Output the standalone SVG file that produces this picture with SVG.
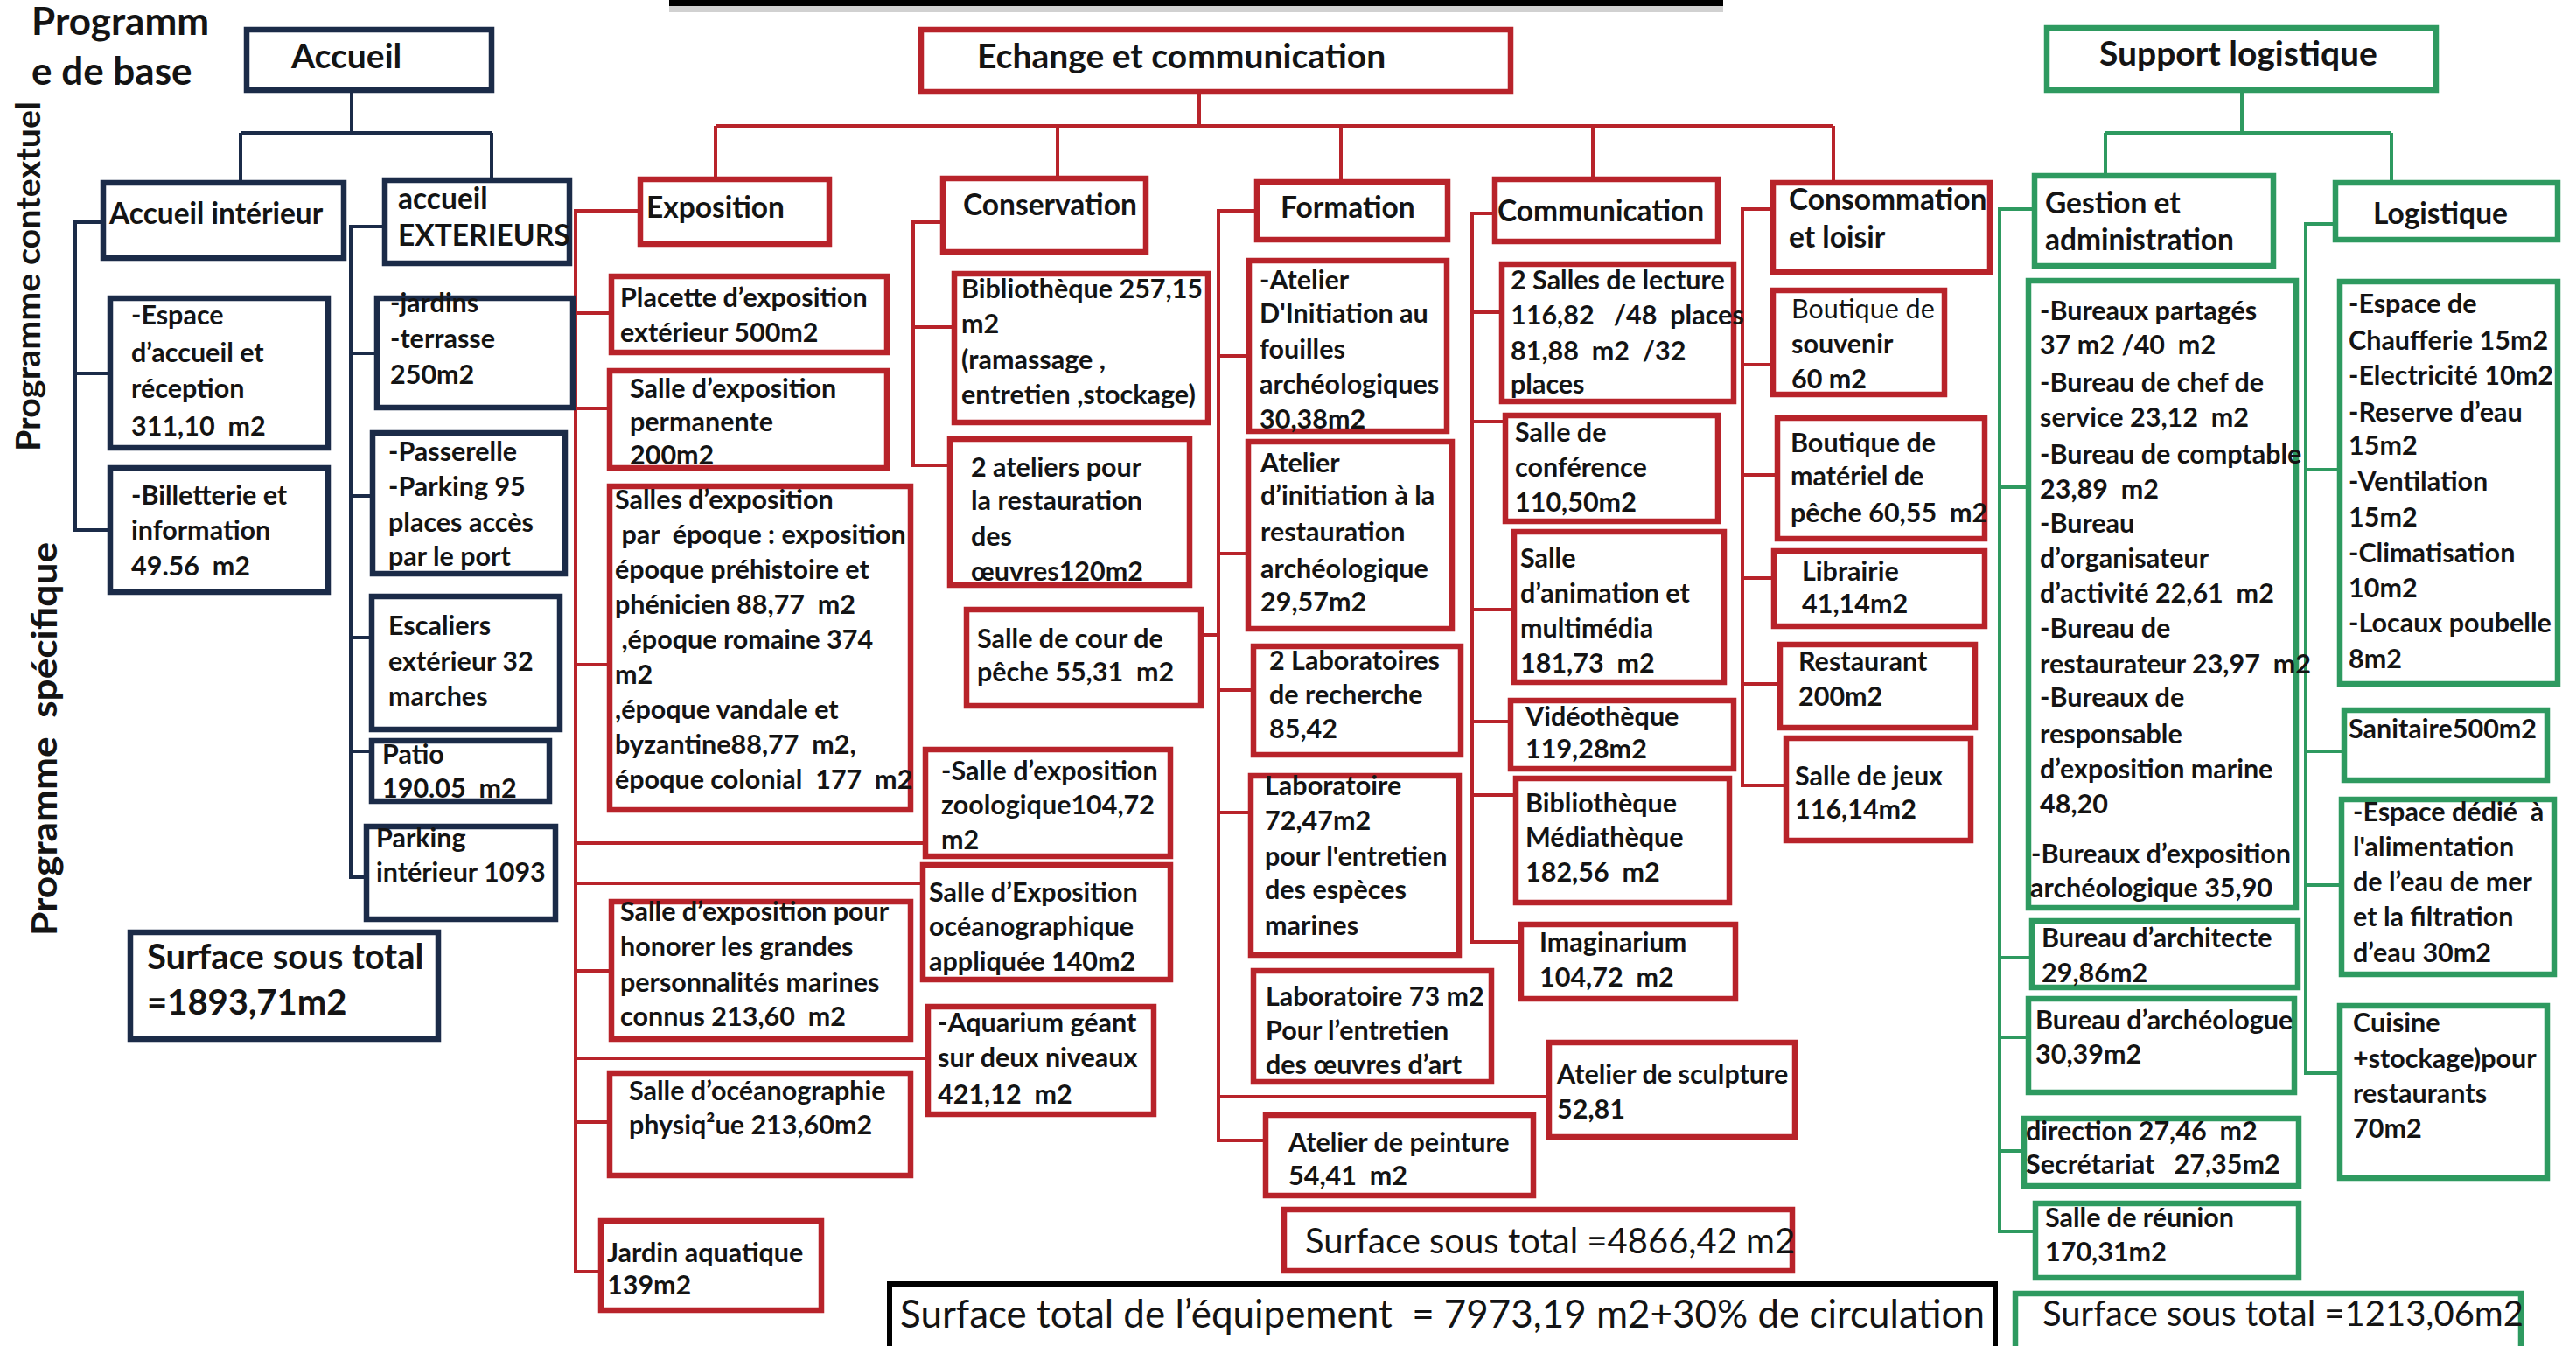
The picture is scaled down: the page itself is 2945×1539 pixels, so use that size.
<svg xmlns="http://www.w3.org/2000/svg" width="2945" height="1539" viewBox="0 0 2945 1539">
<style>
text{font-family:Lato,'Liberation Sans',sans-serif;font-weight:700;font-size:30.5px;fill:#141414}
.h2{font-size:33.5px}
.h1{font-size:39px}
.tot{font-weight:400;font-size:40px}
.big{font-size:40px}
.nv rect{fill:#fff;stroke:#1b2b48;stroke-width:6.5}
.rd rect{fill:#fff;stroke:#b8232a;stroke-width:6.5}
.gr rect{fill:#fff;stroke:#2e9a60;stroke-width:6.5}
.bk rect{fill:#fff;stroke:#000;stroke-width:6}
#connectors path{fill:none;stroke-width:4}
.cn{stroke:#1b2b48}
.cr{stroke:#b8232a}
.cg{stroke:#2e9a60}
</style>
<rect width="2945" height="1539" fill="#fff"/>
<rect x="765" y="6" width="1205" height="8" fill="#000" opacity="0.18"/>
<rect x="765" y="-4" width="1205" height="11" fill="#000"/>

<g id="labels">
<text x="36" y="40" style="font-size:44px">Programm</text>
<text x="36" y="97" style="font-size:44px">e de base</text>
<text transform="translate(46,316) rotate(-90)" text-anchor="middle" style="font-size:39px" textLength="400" lengthAdjust="spacingAndGlyphs">Programme contextuel</text>
<text transform="translate(65,845) rotate(-90)" text-anchor="middle" style="font-size:40px" textLength="450" lengthAdjust="spacingAndGlyphs" xml:space="preserve">Programme  spécifique</text>
</g>

<g id="connectors">
<path class="cn" d="M402,103V152M275,152H562M275,152V209M562,152V206"/>
<path class="cn" d="M118,254H86V606H126M86,427H126"/>
<path class="cn" d="M440,259H401V1003H419M401,404H431M401,567H426M401,729H425M401,859H425"/>
<path class="cr" d="M1371,105V144M818,144H2096M818,144V205M1209,144V204M1533,144V208M1821,144V205M2096,144V209"/>
<path class="cr" d="M732,241H658V1454H687M658,358H699M658,467H697M658,760H697M658,964H1058M658,1010H1055M658,1110H699M658,1210H1061M658,1283H697"/>
<path class="cr" d="M1078,254H1044V532H1086M1044,374H1091"/>
<path class="cr" d="M1437,241H1393V1304H1447M1393,407H1428M1393,633H1427M1373,726H1393M1393,789H1433M1393,929H1430M1393,1254H1771"/>
<path class="cr" d="M1709,244H1683V1077H1739M1683,357H1717M1683,482H1721M1683,697H1731M1683,825H1727M1683,909H1733"/>
<path class="cr" d="M2027,239H1992V898H2042M1992,417H2027M1992,543H2032M1992,661H2028M1992,782H2035"/>
<path class="cg" d="M2563,103V152M2407,152H2734M2407,152V201M2734,152V209"/>
<path class="cg" d="M2326,239H2286V1408H2327M2286,557H2319M2286,1095H2323M2286,1186H2319M2286,1316H2314"/>
<path class="cg" d="M2670,256H2636V1227H2675M2636,537H2675M2636,859H2680M2636,1012H2677"/>
</g>

<!-- Accueil (navy) -->
<g id="accueil" class="nv"><rect x="282" y="34" width="280" height="69"/><text class="h1" x="333" y="78">Accueil</text></g>
<g id="accueil-interieur" class="nv"><rect x="118" y="209" width="275" height="86"/><text class="h2" x="125" y="256">Accueil intérieur</text></g>
<g id="accueil-exterieurs" class="nv"><rect x="440" y="206" width="211" height="95"/><text class="h2" x="455" y="239">accueil</text><text class="h2" x="455" y="281">EXTERIEURS</text></g>
<g id="espace-accueil" class="nv"><rect x="126" y="341" width="249" height="171"/><text x="150" y="371">-Espace</text><text x="150" y="414">d’accueil et</text><text x="150" y="455">réception</text><text x="150" y="498" xml:space="preserve">311,10  m2</text></g>
<g id="billetterie" class="nv"><rect x="126" y="535" width="249" height="142"/><text x="150" y="577">-Billetterie et</text><text x="150" y="617">information</text><text x="150" y="658" xml:space="preserve">49.56  m2</text></g>
<g id="jardins" class="nv"><rect x="431" y="341" width="224" height="125"/><text x="446" y="357">-jardins</text><text x="446" y="398">-terrasse</text><text x="446" y="439">250m2</text></g>
<g id="passerelle" class="nv"><rect x="426" y="495" width="220" height="161"/><text x="444" y="527">-Passerelle</text><text x="444" y="567">-Parking 95</text><text x="444" y="608">places accès</text><text x="444" y="647">par le port</text></g>
<g id="escaliers" class="nv"><rect x="425" y="682" width="215" height="152"/><text x="444" y="726">Escaliers</text><text x="444" y="767">extérieur 32</text><text x="444" y="807">marches</text></g>
<g id="patio" class="nv"><rect x="425" y="847" width="203" height="69"/><text x="437" y="873">Patio</text><text x="437" y="912" xml:space="preserve">190.05  m2</text></g>
<g id="parking-interieur" class="nv"><rect x="419" y="945" width="216" height="106"/><text x="430" y="969">Parking</text><text x="430" y="1008">intérieur 1093</text></g>
<g id="total-accueil" class="nv"><rect x="149" y="1066" width="352" height="122"/><text class="big" x="168" y="1108">Surface sous total</text><text class="big" x="168" y="1160">=1893,71m2</text></g>

<!-- Echange et communication (red) -->
<g id="echange" class="rd"><rect x="1053" y="34" width="674" height="71"/><text class="h1" x="1117" y="78">Echange et communication</text></g>
<g id="exposition" class="rd"><rect x="732" y="205" width="216" height="74"/><text class="h2" x="739" y="249">Exposition</text></g>
<g id="placette" class="rd"><rect x="699" y="316" width="315" height="87"/><text x="709" y="351">Placette d’exposition</text><text x="709" y="391">extérieur 500m2</text></g>
<g id="salle-permanente" class="rd"><rect x="697" y="424" width="317" height="111"/><text x="720" y="455">Salle d’exposition</text><text x="720" y="493">permanente</text><text x="720" y="531">200m2</text></g>
<g id="salles-epoque" class="rd"><rect x="697" y="556" width="344" height="370"/><text x="703" y="582">Salles d’exposition</text><text x="703" y="622" xml:space="preserve"> par  époque : exposition</text><text x="703" y="662">époque préhistoire et</text><text x="703" y="702" xml:space="preserve">phénicien 88,77  m2</text><text x="703" y="742" xml:space="preserve"> ,époque romaine 374</text><text x="703" y="782">m2</text><text x="703" y="822">,époque vandale et</text><text x="703" y="862" xml:space="preserve">byzantine88,77  m2,</text><text x="703" y="902" xml:space="preserve">époque colonial  177  m2</text></g>
<g id="salle-honorer" class="rd"><rect x="699" y="1031" width="342" height="157"/><text x="709" y="1053">Salle d’exposition pour</text><text x="709" y="1093">honorer les grandes</text><text x="709" y="1134">personnalités marines</text><text x="709" y="1173" xml:space="preserve">connus 213,60  m2</text></g>
<g id="salle-oceanographie" class="rd"><rect x="697" y="1227" width="344" height="117"/><text x="719" y="1258">Salle d’océanographie</text><text x="719" y="1297">physiq²ue 213,60m2</text></g>
<g id="jardin-aquatique" class="rd"><rect x="687" y="1396" width="252" height="102"/><text x="694" y="1443">Jardin aquatique</text><text x="694" y="1480">139m2</text></g>

<g id="conservation" class="rd"><rect x="1078" y="204" width="232" height="84"/><text class="h2" x="1101" y="246">Conservation</text></g>
<g id="bibliotheque" class="rd"><rect x="1091" y="313" width="290" height="170"/><text x="1099" y="341">Bibliothèque 257,15</text><text x="1099" y="381">m2</text><text x="1099" y="422">(ramassage ,</text><text x="1099" y="462">entretien ,stockage)</text></g>
<g id="ateliers-restauration" class="rd"><rect x="1086" y="502" width="274" height="167"/><text x="1110" y="545">2 ateliers pour</text><text x="1110" y="583">la restauration</text><text x="1110" y="624">des</text><text x="1110" y="664">œuvres120m2</text></g>
<g id="cour-peche" class="rd"><rect x="1105" y="697" width="268" height="110"/><text x="1117" y="741">Salle de cour de</text><text x="1117" y="779" xml:space="preserve">pêche 55,31  m2</text></g>
<g id="zoologique" class="rd"><rect x="1058" y="857" width="280" height="122"/><text x="1076" y="892">-Salle d’exposition</text><text x="1076" y="931">zoologique104,72</text><text x="1076" y="971">m2</text></g>
<g id="oceanographique" class="rd"><rect x="1055" y="989" width="283" height="131"/><text x="1062" y="1031">Salle d’Exposition</text><text x="1062" y="1070">océanographique</text><text x="1062" y="1110">appliquée 140m2</text></g>
<g id="aquarium" class="rd"><rect x="1061" y="1151" width="258" height="123"/><text x="1072" y="1180">-Aquarium géant</text><text x="1072" y="1220">sur deux niveaux</text><text x="1072" y="1262" xml:space="preserve">421,12  m2</text></g>

<g id="formation" class="rd"><rect x="1437" y="208" width="218" height="66"/><text class="h2" x="1464" y="249">Formation</text></g>
<g id="atelier-fouilles" class="rd"><rect x="1428" y="298" width="226" height="195"/><text x="1440" y="331">-Atelier</text><text x="1440" y="369">D'Initiation au</text><text x="1440" y="410">fouilles</text><text x="1440" y="450">archéologiques</text><text x="1440" y="490">30,38m2</text></g>
<g id="atelier-restauration" class="rd"><rect x="1427" y="505" width="233" height="214"/><text x="1441" y="540">Atelier</text><text x="1441" y="577">d’initiation à la</text><text x="1441" y="619">restauration</text><text x="1441" y="661">archéologique</text><text x="1441" y="699">29,57m2</text></g>
<g id="laboratoires-recherche" class="rd"><rect x="1433" y="739" width="237" height="124"/><text x="1451" y="766">2 Laboratoires</text><text x="1451" y="805">de recherche</text><text x="1451" y="844">85,42</text></g>
<g id="laboratoire-especes" class="rd"><rect x="1430" y="887" width="238" height="205"/><text x="1446" y="909">Laboratoire</text><text x="1446" y="949">72,47m2</text><text x="1446" y="990">pour l'entretien</text><text x="1446" y="1028">des espèces</text><text x="1446" y="1069">marines</text></g>
<g id="laboratoire-oeuvres" class="rd"><rect x="1433" y="1110" width="272" height="127"/><text x="1447" y="1150">Laboratoire 73 m2</text><text x="1447" y="1189">Pour l’entretien</text><text x="1447" y="1228">des œuvres d’art</text></g>
<g id="atelier-sculpture" class="rd"><rect x="1771" y="1192" width="281" height="108"/><text x="1780" y="1239">Atelier de sculpture</text><text x="1780" y="1279">52,81</text></g>
<g id="atelier-peinture" class="rd"><rect x="1447" y="1275" width="306" height="92"/><text x="1473" y="1317">Atelier de peinture</text><text x="1473" y="1355" xml:space="preserve">54,41  m2</text></g>
<g id="total-echange" class="rd"><rect x="1468" y="1383" width="581" height="70"/><text class="tot" x="1492" y="1433">Surface sous total =4866,42 m2</text></g>

<g id="communication" class="rd"><rect x="1709" y="205" width="255" height="71"/><text class="h2" x="1712" y="253">Communication</text></g>
<g id="salles-lecture" class="rd"><rect x="1717" y="302" width="265" height="157"/><text x="1727" y="331">2 Salles de lecture</text><text x="1727" y="371" xml:space="preserve">116,82   /48  places</text><text x="1727" y="412" xml:space="preserve">81,88  m2  /32</text><text x="1727" y="450">places</text></g>
<g id="salle-conference" class="rd"><rect x="1721" y="475" width="243" height="121"/><text x="1732" y="505">Salle de</text><text x="1732" y="545">conférence</text><text x="1732" y="585">110,50m2</text></g>
<g id="salle-animation" class="rd"><rect x="1731" y="608" width="240" height="172"/><text x="1738" y="649">Salle</text><text x="1738" y="689">d’animation et</text><text x="1738" y="729">multimédia</text><text x="1738" y="769" xml:space="preserve">181,73  m2</text></g>
<g id="videotheque" class="rd"><rect x="1727" y="801" width="255" height="78"/><text x="1744" y="830">Vidéothèque</text><text x="1744" y="867">119,28m2</text></g>
<g id="mediatheque" class="rd"><rect x="1733" y="890" width="244" height="142"/><text x="1744" y="929">Bibliothèque</text><text x="1744" y="968">Médiathèque</text><text x="1744" y="1008" xml:space="preserve">182,56  m2</text></g>
<g id="imaginarium" class="rd"><rect x="1739" y="1057" width="245" height="85"/><text x="1760" y="1088">Imaginarium</text><text x="1760" y="1128" xml:space="preserve">104,72  m2</text></g>

<g id="consommation" class="rd"><rect x="2027" y="209" width="248" height="102"/><text class="h2" x="2045" y="240">Consommation</text><text class="h2" x="2045" y="283">et loisir</text></g>
<g id="boutique-souvenir" class="rd"><rect x="2027" y="332" width="196" height="119"/><text x="2048" y="364" style="font-weight:400">Boutique de</text><text x="2048" y="404">souvenir</text><text x="2048" y="444">60 m2</text></g>
<g id="boutique-peche" class="rd"><rect x="2032" y="478" width="237" height="138"/><text x="2047" y="517">Boutique de</text><text x="2047" y="555">matériel de</text><text x="2047" y="597" xml:space="preserve">pêche 60,55  m2</text></g>
<g id="librairie" class="rd"><rect x="2028" y="630" width="241" height="86"/><text x="2060" y="664">Librairie</text><text x="2060" y="701">41,14m2</text></g>
<g id="restaurant" class="rd"><rect x="2035" y="737" width="223" height="95"/><text x="2056" y="767">Restaurant</text><text x="2056" y="807">200m2</text></g>
<g id="salle-jeux" class="rd"><rect x="2042" y="844" width="211" height="117"/><text x="2052" y="898">Salle de jeux</text><text x="2052" y="936">116,14m2</text></g>

<!-- Support logistique (green) -->
<g id="support-logistique" class="gr"><rect x="2340" y="32" width="445" height="71"/><text class="h1" x="2400" y="75">Support logistique</text></g>
<g id="gestion" class="gr"><rect x="2326" y="201" width="273" height="103"/><text class="h2" x="2338" y="244">Gestion et</text><text class="h2" x="2338" y="286">administration</text></g>
<g id="logistique" class="gr"><rect x="2670" y="209" width="254" height="65"/><text class="h2" x="2713" y="256">Logistique</text></g>
<g id="bureaux" class="gr"><rect x="2319" y="321" width="306" height="717"/><text x="2332" y="366">-Bureaux partagés</text><text x="2332" y="405" xml:space="preserve">37 m2 /40  m2</text><text x="2332" y="448">-Bureau de chef de</text><text x="2332" y="488" xml:space="preserve">service 23,12  m2</text><text x="2332" y="530">-Bureau de comptable</text><text x="2332" y="570" xml:space="preserve">23,89  m2</text><text x="2332" y="609">-Bureau</text><text x="2332" y="649">d’organisateur</text><text x="2332" y="689" xml:space="preserve">d’activité 22,61  m2</text><text x="2332" y="729">-Bureau de</text><text x="2332" y="770" xml:space="preserve">restaurateur 23,97  m2</text><text x="2332" y="808">-Bureaux de</text><text x="2332" y="850">responsable</text><text x="2332" y="890">d’exposition marine</text><text x="2332" y="930">48,20</text><text x="2322" y="987">-Bureaux d’exposition</text><text x="2321" y="1026">archéologique 35,90</text></g>
<g id="bureau-architecte" class="gr"><rect x="2323" y="1053" width="304" height="76"/><text x="2334" y="1083">Bureau d’architecte</text><text x="2334" y="1123">29,86m2</text></g>
<g id="bureau-archeologue" class="gr"><rect x="2319" y="1142" width="304" height="107"/><text x="2327" y="1177">Bureau d’archéologue</text><text x="2327" y="1216">30,39m2</text></g>
<g id="direction" class="gr"><rect x="2314" y="1279" width="314" height="77"/><text x="2316" y="1304" xml:space="preserve">direction 27,46  m2</text><text x="2316" y="1342" xml:space="preserve">Secrétariat   27,35m2</text></g>
<g id="salle-reunion" class="gr"><rect x="2327" y="1376" width="301" height="85"/><text x="2338" y="1403">Salle de réunion</text><text x="2338" y="1442">170,31m2</text></g>
<g id="total-support" class="gr"><rect x="2304" y="1479" width="578" height="66"/><text class="tot" x="2335" y="1516">Surface sous total =1213,06m2</text></g>
<g id="locaux-techniques" class="gr"><rect x="2675" y="322" width="249" height="460"/><text x="2685" y="358">-Espace de</text><text x="2685" y="400">Chaufferie 15m2</text><text x="2685" y="440">-Electricité 10m2</text><text x="2685" y="482">-Reserve d’eau</text><text x="2685" y="520">15m2</text><text x="2685" y="561">-Ventilation</text><text x="2685" y="602">15m2</text><text x="2685" y="643">-Climatisation</text><text x="2685" y="683">10m2</text><text x="2685" y="723">-Locaux poubelle</text><text x="2685" y="764">8m2</text></g>
<g id="sanitaire" class="gr"><rect x="2680" y="812" width="232" height="80"/><text x="2685" y="844">Sanitaire500m2</text></g>
<g id="eau-de-mer" class="gr"><rect x="2677" y="914" width="243" height="200"/><text x="2690" y="939" xml:space="preserve">-Espace dédié  à</text><text x="2690" y="979">l'alimentation</text><text x="2690" y="1019">de l’eau de mer</text><text x="2690" y="1059">et la filtration</text><text x="2690" y="1100">d’eau 30m2</text></g>
<g id="cuisine" class="gr"><rect x="2675" y="1150" width="237" height="197"/><text x="2690" y="1180">Cuisine</text><text x="2690" y="1221">+stockage)pour</text><text x="2690" y="1261">restaurants</text><text x="2690" y="1301">70m2</text></g>

<g id="total-general" class="bk"><rect x="1017" y="1468" width="1264" height="80"/><text class="tot" x="1029" y="1518" style="font-size:44px" textLength="1240" lengthAdjust="spacingAndGlyphs" xml:space="preserve">Surface total de l’équipement  = 7973,19 m2+30% de circulation</text></g>
</svg>
